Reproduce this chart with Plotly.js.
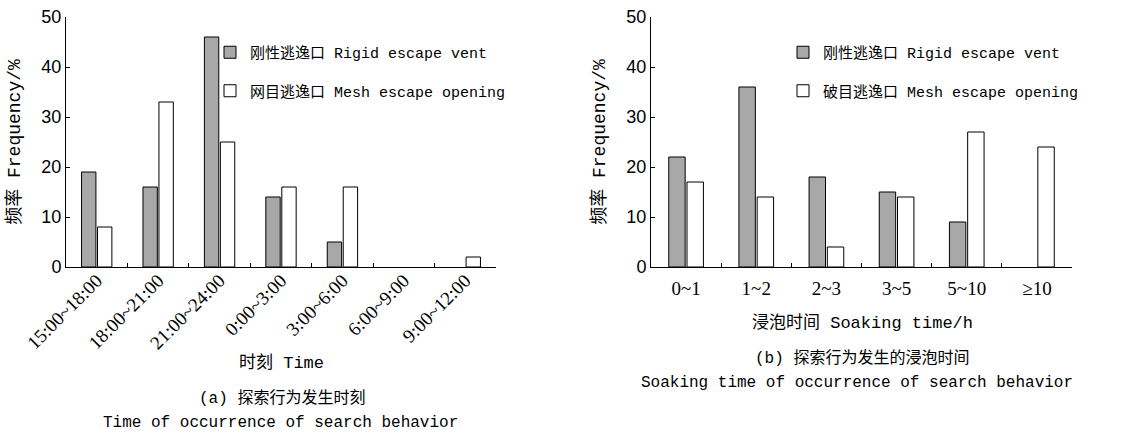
<!DOCTYPE html>
<html>
<head>
<meta charset="utf-8">
<script src="https://cdn.plot.ly/plotly-3.0.1.min.js"></script>
<style>html,body{margin:0;padding:0;background:#fff;}#chart{width:1129px;height:439px;}</style>
</head>
<body>
<div id="chart"></div>
<script>
// (a) time of occurrence
const catsA = ['15:00~18:00','18:00~21:00','21:00~24:00','0:00~3:00','3:00~6:00','6:00~9:00','9:00~12:00'];
const rigidA = [19,16,46,14,5,0,0];
const meshA = [8,33,25,16,16,0,2];
// (b) soaking time
const catsB = ['0~1','1~2','2~3','3~5','5~10','≥10'];
const rigidB = [22,36,18,15,9,0];
const meshB = [17,14,4,14,27,24];

const nameRigid = '刚性逃逸口 Rigid escape vent';
const nameMeshA = '网目逃逸口 Mesh escape opening';
const nameMeshB = '破目逃逸口 Mesh escape opening';

const mono = 'Liberation Mono, Noto Sans CJK SC, monospace';
const grey = '#a8a8a8';
// no outline drawn for empty (zero) bars
const lineFor = vals => ({color:'#000', width: vals.map(v => v === 0 ? 0 : 1)});

const traces = [
  {type:'bar', x:catsA, y:rigidA, xaxis:'x', yaxis:'y', name:nameRigid,
   marker:{color:grey, line:lineFor(rigidA)}, legend:'legend', legendgroup:'a1'},
  {type:'bar', x:catsA, y:meshA, xaxis:'x', yaxis:'y', name:nameMeshA,
   marker:{color:'#fff', line:lineFor(meshA)}, legend:'legend', legendgroup:'a2'},
  {type:'bar', x:catsB, y:rigidB, xaxis:'x2', yaxis:'y2', name:nameRigid,
   marker:{color:grey, line:lineFor(rigidB)}, legend:'legend2', legendgroup:'b1'},
  {type:'bar', x:catsB, y:meshB, xaxis:'x2', yaxis:'y2', name:nameMeshB,
   marker:{color:'#fff', line:lineFor(meshB)}, legend:'legend2', legendgroup:'b2'}
];

const W = 1129, H = 439;
const px = v => v / W;
const py = v => 1 - v / H;

const xCommon = {
  type:'category', showline:true, linecolor:'#000', linewidth:1,
  ticks:'inside', ticklen:4, tickcolor:'#000', tickson:'boundaries',
  showgrid:false, zeroline:false, fixedrange:true
};
const yCommon = {
  range:[0,50], dtick:10, showline:true, linecolor:'#000', linewidth:1,
  ticks:'inside', ticklen:4, tickcolor:'#000', showgrid:false, zeroline:false,
  fixedrange:true,
  tickfont:{family:'Liberation Sans, sans-serif', size:18, color:'#000'},
  title:{text:'频率 Frequency/%', font:{family:mono, size:18, color:'#000'}}
};

const yDom = [py(267), py(17)];

const legendCommon = {
  bgcolor:'rgba(0,0,0,0)', borderwidth:0, traceorder:'grouped', tracegroupgap:16,
  font:{family:mono, size:15, color:'#000'}, xanchor:'left', yanchor:'top'
};

const annFont = (s) => ({family:mono, size:s, color:'#000'});
const annotations = [
  {text:'时刻 Time', x:px(281), y:py(363), font:annFont(17)},
  {text:'(a) 探索行为发生时刻', x:px(282), y:py(398), font:annFont(16)},
  {text:'Time of occurrence of search behavior', x:px(280), y:py(423), font:annFont(16)},
  {text:'浸泡时间 Soaking time/h', x:px(862), y:py(323), font:annFont(17)},
  {text:'(b) 探索行为发生的浸泡时间', x:px(862), y:py(358), font:annFont(16)},
  {text:'Soaking time of occurrence of search behavior', x:px(857), y:py(383), font:annFont(16)}
].map(a => Object.assign({xref:'paper', yref:'paper', showarrow:false, xanchor:'center', yanchor:'middle'}, a));

const layout = {
  width:W, height:H, margin:{l:0, r:0, t:0, b:0},
  paper_bgcolor:'#fff', plot_bgcolor:'#fff',
  barmode:'group', bargap:0.48, bargroupgap:0.1,
  showlegend:true,
  xaxis:Object.assign({}, xCommon, {domain:[px(66), px(496)], anchor:'y', tickangle:-45,
    ticklabelstandoff:-6,
    tickfont:{family:'Liberation Serif, serif', size:19, color:'#000'}}),
  yaxis:Object.assign({}, yCommon, {domain:yDom, anchor:'x'}),
  xaxis2:Object.assign({}, xCommon, {domain:[px(651), px(1072)], anchor:'y2', tickangle:0,
    ticklabelstandoff:4,
    tickfont:{family:'Liberation Serif, serif', size:19, color:'#000'}}),
  yaxis2:Object.assign({}, yCommon, {domain:yDom, anchor:'x2'}),
  legend:Object.assign({}, legendCommon, {x:px(210), y:py(36)}),
  legend2:Object.assign({}, legendCommon, {x:px(783), y:py(36)}),
  annotations:annotations
};

Plotly.newPlot('chart', traces, layout, {displayModeBar:false, staticPlot:true});
</script>
</body>
</html>
